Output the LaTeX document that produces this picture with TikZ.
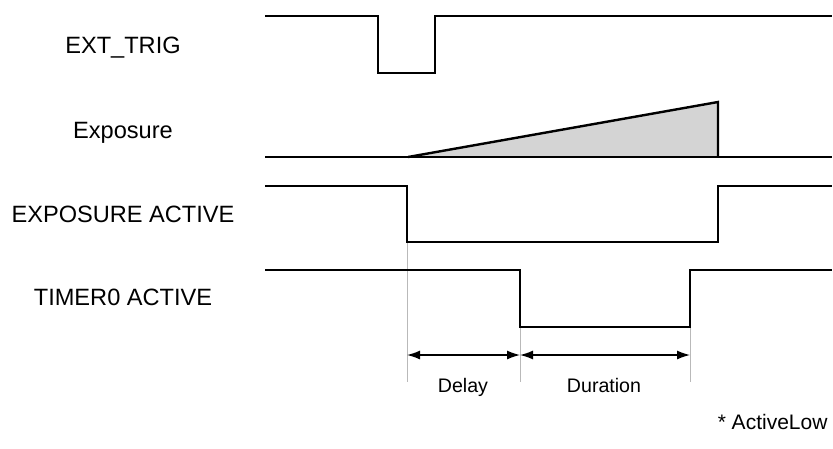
\documentclass[tikz,border=0pt]{standalone}
\usepackage{fontspec}
\setmainfont{Liberation Sans}
\usetikzlibrary{arrows.meta}

\begin{document}
\begin{tikzpicture}[x=1pt,y=-1pt,
    sig/.style={line width=2.4pt,line join=miter},
    guide/.style={gray!55,line width=0.9pt},
    dim/.style={{Latex[length=13pt,width=9pt]}-{Latex[length=13pt,width=9pt]},line width=1.3pt},
    signame/.style={anchor=base,font=\fontsize{23.6pt}{28pt}\selectfont},
    small/.style={anchor=base,font=\fontsize{19.6pt}{24pt}\selectfont}]
        \useasboundingbox (0,0) rectangle (833,448);

        % 信号名称
        \node[signame] (trigname) at (123,53) {EXT\_TRIG};
        \node[signame] (expname) at (123,138) {Exposure};
        \node[signame] (activename) at (123,222) {EXPOSURE ACTIVE};
        \node[signame] (timername) at (123,305) {TIMER0 ACTIVE};

        % 辅助线
        \draw[guide] (407,242) -- (407,382);
        \draw[guide] (520,327) -- (520,382);
        \draw[guide] (690,327) -- (690,382);

        % 波形
        \draw[sig] (265,16) -- (378,16) -- (378,73) -- (435,73) -- (435,16) -- (832,16);
        \filldraw[sig,fill=black!17] (408,157) -- (718,102) -- (718,157);
        \draw[sig] (265,157) -- (832,157);
        \draw[sig] (265,186) -- (407,186) -- (407,242) -- (718,242) -- (718,186) -- (832,186);
        \draw[sig] (265,270) -- (520,270) -- (520,327) -- (690,327) -- (690,270) -- (832,270);

        % 时间标注
        \coordinate (start) at (407,355);
        \coordinate (mid) at (520,355);
        \coordinate (stop) at (690,355);
        \draw[dim] (start) -- (mid);
        \draw[dim] (mid) -- (stop);
        \node[small] (delay) at (463,392) {Delay};
        \node[small] (duration) at (604,392) {Duration};

        \node[small,anchor=base east,font=\fontsize{21pt}{25pt}\selectfont] (note) at (831,429) {* ActiveLow};
    \end{tikzpicture}
\end{document}
